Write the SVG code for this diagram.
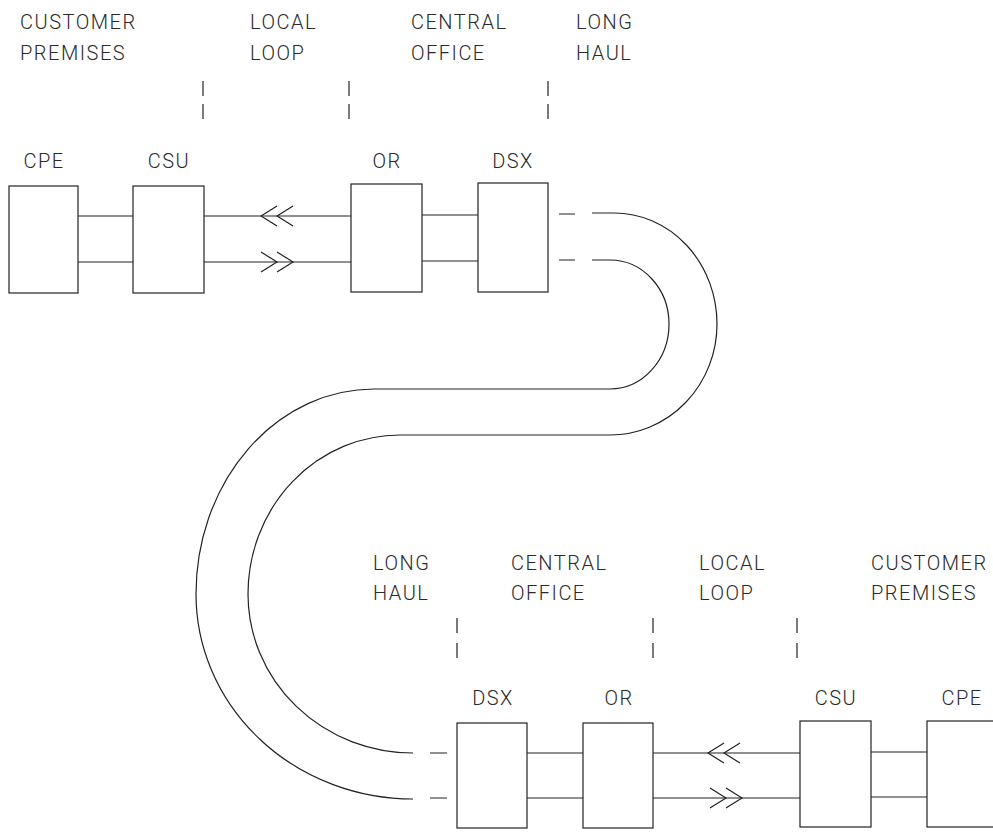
<svg xmlns="http://www.w3.org/2000/svg" xmlns:xlink="http://www.w3.org/1999/xlink" width="993" height="833" viewBox="0 0 993 833">
<style>
  .t { font-family: Roboto, "Liberation Sans", Arial, sans-serif; font-weight: 300; font-size: 20px; letter-spacing: 1.5px; fill: #2a2a2a; }
  .c { text-anchor: middle; }
  .box { fill: #fff; stroke: #222; stroke-width: 1.2; }
  .ln { fill: none; stroke: #222; stroke-width: 1.2; }
  .sep { stroke: #222; stroke-width: 1.2; }
</style>
<defs>
  <path id="dchev" d="M16,-10 L0,0 L16,10 M32,-10 L16,0 L32,10" fill="none" stroke="#222" stroke-width="1.2"/>
</defs>
<rect width="993" height="833" fill="#fff"/>

<g id="zones-top">
  <text class="t" x="20" y="29">CUSTOMER</text>
  <text class="t" x="20" y="60">PREMISES</text>
  <text class="t" x="250" y="29">LOCAL</text>
  <text class="t" x="250" y="60">LOOP</text>
  <text class="t" x="411" y="29">CENTRAL</text>
  <text class="t" x="411" y="60">OFFICE</text>
  <text class="t" x="576" y="29">LONG</text>
  <text class="t" x="576" y="60">HAUL</text>
  <path class="sep" d="M203,81 V96 M203,104 V119 M349,81 V96 M349,104 V119 M548,81 V96 M548,104 V119"/>
</g>

<g id="zones-bottom">
  <text class="t" x="373" y="570">LONG</text>
  <text class="t" x="373" y="600">HAUL</text>
  <text class="t" x="511" y="570">CENTRAL</text>
  <text class="t" x="511" y="600">OFFICE</text>
  <text class="t" x="699" y="570">LOCAL</text>
  <text class="t" x="699" y="600">LOOP</text>
  <text class="t" x="871" y="570">CUSTOMER</text>
  <text class="t" x="871" y="600">PREMISES</text>
  <path class="sep" d="M457,618 V633 M457,643 V658 M653,618 V633 M653,643 V658 M797,618 V633 M797,643 V658"/>
</g>

<g id="cpe-a"><rect class="box" x="9" y="186" width="69" height="107"/><text class="t c" x="44" y="168">CPE</text></g>
<g id="csu-a"><rect class="box" x="133" y="186" width="71" height="107"/><text class="t c" x="169" y="168">CSU</text></g>
<g id="or-a"><rect class="box" x="351" y="184" width="71" height="108"/><text class="t c" x="387" y="168">OR</text></g>
<g id="dsx-a"><rect class="box" x="478" y="183" width="70" height="109"/><text class="t c" x="513" y="168">DSX</text></g>

<g id="dsx-b"><rect class="box" x="457" y="723" width="70" height="105"/><text class="t c" x="493" y="705">DSX</text></g>
<g id="or-b"><rect class="box" x="583" y="723" width="70" height="105"/><text class="t c" x="619" y="705">OR</text></g>
<g id="csu-b"><rect class="box" x="800" y="721" width="71" height="106"/><text class="t c" x="836" y="705">CSU</text></g>
<g id="cpe-b"><rect class="box" x="927" y="721" width="70" height="106"/><text class="t c" x="962" y="705">CPE</text></g>

<g id="connectors">
  <path class="ln" d="M78,216 H133 M78,262 H133"/>
  <path class="ln" d="M204,216 H351 M204,262 H351"/>
  <use xlink:href="#dchev" href="#dchev" transform="translate(261,216)"/>
  <use xlink:href="#dchev" href="#dchev" transform="translate(293,262) scale(-1,1)"/>
  <path class="ln" d="M422,215 H478 M422,261 H478"/>
  <path class="ln" d="M559,214 H575 M559,260 H575"/>
  <path class="ln" d="M592,213 H614 A103,111 0 0 1 717,324 A107,111 0 0 1 610,435 H400 A152,159 0 0 0 248,594 A165,159 0 0 0 413,753"/>
  <path class="ln" d="M592,260 H610 A59,64 0 0 1 669,324 A59,65 0 0 1 610,389 H374 A178,205 0 0 0 196,594 A217,205 0 0 0 413,799"/>
  <path class="ln" d="M430,753 H447 M430,798 H447"/>
  <path class="ln" d="M527,753 H583 M527,798 H583"/>
  <path class="ln" d="M653,753 H800 M653,798 H800"/>
  <use xlink:href="#dchev" href="#dchev" transform="translate(708,753)"/>
  <use xlink:href="#dchev" href="#dchev" transform="translate(742,798) scale(-1,1)"/>
  <path class="ln" d="M871,752 H927 M871,797 H927"/>
</g>
</svg>
